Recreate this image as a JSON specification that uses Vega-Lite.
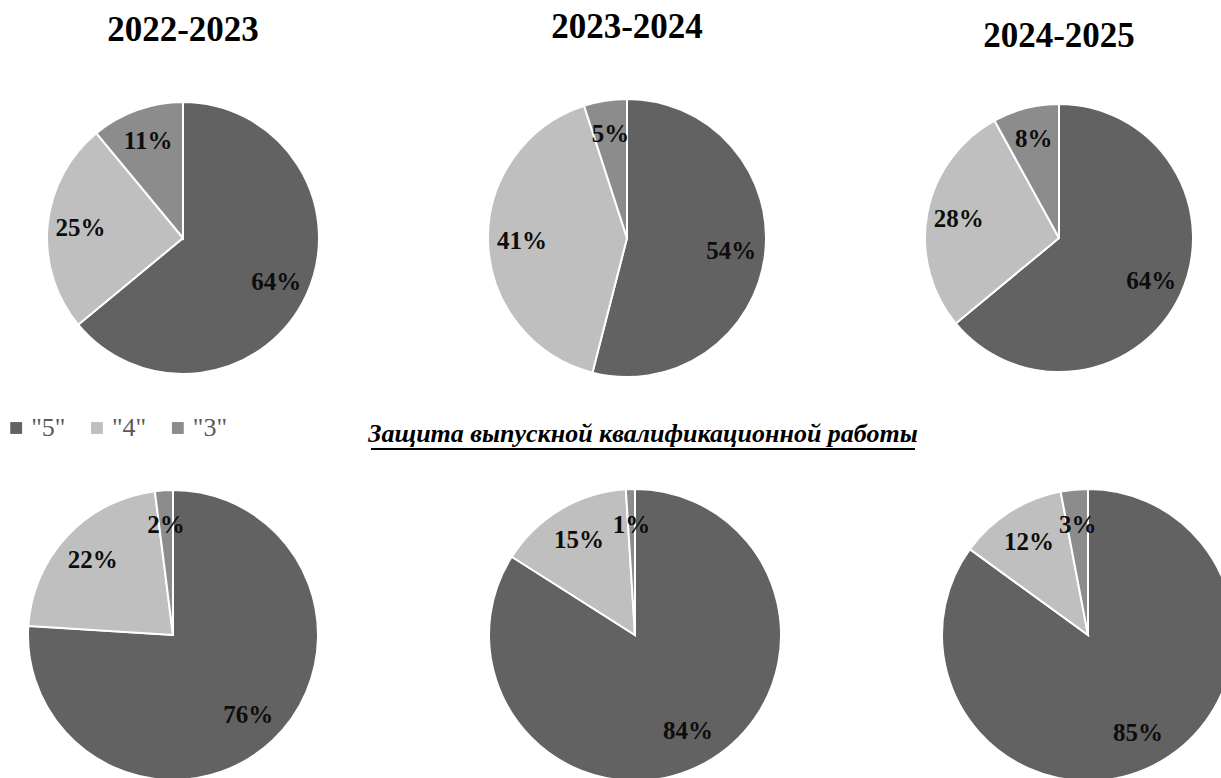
{
  "$schema": "https://vega.github.io/schema/vega-lite/v6.json",
  "background": "white",
  "padding": {"top": 10, "left": 0, "right": 0, "bottom": 0},
  "config": {"view": {"stroke": null}, "font": "Liberation Serif"},
  "datasets": {
    "grades": [
      {"exam": "Государственный экзамен", "year": "2022-2023", "grade": "\"5\"", "share": 0.64},
      {"exam": "Государственный экзамен", "year": "2022-2023", "grade": "\"4\"", "share": 0.25},
      {"exam": "Государственный экзамен", "year": "2022-2023", "grade": "\"3\"", "share": 0.11},
      {"exam": "Государственный экзамен", "year": "2023-2024", "grade": "\"5\"", "share": 0.54},
      {"exam": "Государственный экзамен", "year": "2023-2024", "grade": "\"4\"", "share": 0.41},
      {"exam": "Государственный экзамен", "year": "2023-2024", "grade": "\"3\"", "share": 0.05},
      {"exam": "Государственный экзамен", "year": "2024-2025", "grade": "\"5\"", "share": 0.64},
      {"exam": "Государственный экзамен", "year": "2024-2025", "grade": "\"4\"", "share": 0.28},
      {"exam": "Государственный экзамен", "year": "2024-2025", "grade": "\"3\"", "share": 0.08},
      {"exam": "ВКР", "year": "2022-2023", "grade": "\"5\"", "share": 0.76},
      {"exam": "ВКР", "year": "2022-2023", "grade": "\"4\"", "share": 0.22},
      {"exam": "ВКР", "year": "2022-2023", "grade": "\"3\"", "share": 0.02},
      {"exam": "ВКР", "year": "2023-2024", "grade": "\"5\"", "share": 0.84},
      {"exam": "ВКР", "year": "2023-2024", "grade": "\"4\"", "share": 0.15},
      {"exam": "ВКР", "year": "2023-2024", "grade": "\"3\"", "share": 0.01},
      {"exam": "ВКР", "year": "2024-2025", "grade": "\"5\"", "share": 0.85},
      {"exam": "ВКР", "year": "2024-2025", "grade": "\"4\"", "share": 0.12},
      {"exam": "ВКР", "year": "2024-2025", "grade": "\"3\"", "share": 0.03}
    ],
    "caption": [
      {"text": "Защита выпускной квалификационной работы"}
    ]
  },
  "spacing": 26,
  "vconcat": [
    {
      "spacing": 0,
      "hconcat": [
        {
          "width": 366, "height": 278,
          "title": {"text": "2022-2023", "fontSize": 35, "font": "Liberation Serif", "fontWeight": "bold", "anchor": "middle", "offset": 50, "color": "#000000"},
          "data": {"name": "grades"},
          "transform": [{"filter": "datum.exam === 'Государственный экзамен' && datum.year === '2022-2023'"}],
          "encoding": {
            "theta": {"field": "share", "type": "quantitative", "stack": true},
            "order": {"field": "grade", "sort": "descending"}
          },
          "layer": [
            {"mark": {"type": "arc", "outerRadius": 136, "stroke": "white", "strokeWidth": 2},
             "encoding": {"color": {"field": "grade", "type": "nominal", "legend": null, "scale": {"domain": ["\"5\"", "\"4\"", "\"3\""], "range": ["#626262", "#bfbfbf", "#8c8c8c"]}}}},
            {"mark": {"type": "text", "radius": 103, "fontSize": 25, "fontWeight": "bold", "font": "Liberation Serif", "color": "#0d0d0d"},
             "encoding": {"text": {"field": "share", "type": "quantitative", "format": ".0%"}}}
          ]
        },
        {
          "width": 522, "height": 278,
          "title": {"text": "2023-2024", "fontSize": 35, "font": "Liberation Serif", "fontWeight": "bold", "anchor": "middle", "offset": 50, "color": "#000000"},
          "data": {"name": "grades"},
          "transform": [{"filter": "datum.exam === 'Государственный экзамен' && datum.year === '2023-2024'"}],
          "encoding": {
            "theta": {"field": "share", "type": "quantitative", "stack": true},
            "order": {"field": "grade", "sort": "descending"}
          },
          "layer": [
            {"mark": {"type": "arc", "outerRadius": 139, "stroke": "white", "strokeWidth": 2},
             "encoding": {"color": {"field": "grade", "type": "nominal", "legend": null, "scale": {"domain": ["\"5\"", "\"4\"", "\"3\""], "range": ["#626262", "#bfbfbf", "#8c8c8c"]}}}},
            {"mark": {"type": "text", "radius": 105, "fontSize": 25, "fontWeight": "bold", "font": "Liberation Serif", "color": "#0d0d0d"},
             "encoding": {"text": {"field": "share", "type": "quantitative", "format": ".0%"}}}
          ]
        },
        {
          "width": 342, "height": 278,
          "title": {"text": "2024-2025", "fontSize": 35, "font": "Liberation Serif", "fontWeight": "bold", "anchor": "middle", "offset": 45, "color": "#000000"},
          "data": {"name": "grades"},
          "transform": [{"filter": "datum.exam === 'Государственный экзамен' && datum.year === '2024-2025'"}],
          "encoding": {
            "theta": {"field": "share", "type": "quantitative", "stack": true},
            "order": {"field": "grade", "sort": "descending"}
          },
          "layer": [
            {"mark": {"type": "arc", "outerRadius": 134, "stroke": "white", "strokeWidth": 2},
             "encoding": {"color": {"field": "grade", "type": "nominal", "legend": null, "scale": {"domain": ["\"5\"", "\"4\"", "\"3\""], "range": ["#626262", "#bfbfbf", "#8c8c8c"]}}}},
            {"mark": {"type": "text", "radius": 102, "fontSize": 25, "fontWeight": "bold", "font": "Liberation Serif", "color": "#0d0d0d"},
             "encoding": {"text": {"field": "share", "type": "quantitative", "format": ".0%"}}}
          ]
        }
      ]
    },
    {
      "spacing": 140,
      "hconcat": [
        {
          "width": 194, "height": 42,
          "data": {"name": "grades"},
          "transform": [{"filter": "datum.exam === 'ВКР' && datum.year === '2022-2023'"}],
          "encoding": {
            "x": {"field": "grade", "type": "nominal", "sort": "descending", "scale": {"type": "point", "padding": 0.2}, "axis": null}
          },
          "layer": [
            {"mark": {"type": "square", "size": 140, "opacity": 1},
             "encoding": {"color": {"field": "grade", "type": "nominal", "legend": null, "scale": {"domain": ["\"5\"", "\"4\"", "\"3\""], "range": ["#626262", "#bfbfbf", "#8c8c8c"]}}}},
            {"mark": {"type": "text", "align": "left", "baseline": "middle", "dx": 15, "fontSize": 26, "font": "Liberation Serif", "color": "#595959"},
             "encoding": {"text": {"field": "grade", "type": "nominal"}}}
          ]
        },
        {
          "width": 544, "height": 42,
          "data": {"name": "caption"},
          "layer": [
            {"mark": {"type": "text", "baseline": "alphabetic", "align": "center", "dy": 14, "fontSize": 26, "font": "Liberation Serif", "fontStyle": "italic", "fontWeight": "bold", "color": "#000000"},
             "encoding": {"text": {"field": "text", "type": "nominal"}}},
            {"mark": {"type": "rule", "strokeWidth": 2, "color": "#000000"},
             "encoding": {"x": {"value": 0}, "x2": {"value": "width"}, "y": {"value": "height"}}}
          ]
        }
      ]
    },
    {
      "spacing": 0,
      "hconcat": [
        {
          "width": 346, "height": 318,
          "data": {"name": "grades"},
          "transform": [{"filter": "datum.exam === 'ВКР' && datum.year === '2022-2023'"}],
          "encoding": {
            "theta": {"field": "share", "type": "quantitative", "stack": true},
            "order": {"field": "grade", "sort": "descending"}
          },
          "layer": [
            {"mark": {"type": "arc", "outerRadius": 145, "stroke": "white", "strokeWidth": 2},
             "encoding": {"color": {"field": "grade", "type": "nominal", "legend": null, "scale": {"domain": ["\"5\"", "\"4\"", "\"3\""], "range": ["#626262", "#bfbfbf", "#8c8c8c"]}}}},
            {"mark": {"type": "text", "radius": 110, "fontSize": 25, "fontWeight": "bold", "font": "Liberation Serif", "color": "#0d0d0d"},
             "encoding": {"text": {"field": "share", "type": "quantitative", "format": ".0%"}}}
          ]
        },
        {
          "width": 578, "height": 318,
          "data": {"name": "grades"},
          "transform": [{"filter": "datum.exam === 'ВКР' && datum.year === '2023-2024'"}],
          "encoding": {
            "theta": {"field": "share", "type": "quantitative", "stack": true},
            "order": {"field": "grade", "sort": "descending"}
          },
          "layer": [
            {"mark": {"type": "arc", "outerRadius": 146, "stroke": "white", "strokeWidth": 2},
             "encoding": {"color": {"field": "grade", "type": "nominal", "legend": null, "scale": {"domain": ["\"5\"", "\"4\"", "\"3\""], "range": ["#626262", "#bfbfbf", "#8c8c8c"]}}}},
            {"mark": {"type": "text", "radius": 110, "fontSize": 25, "fontWeight": "bold", "font": "Liberation Serif", "color": "#0d0d0d"},
             "encoding": {"text": {"field": "share", "type": "quantitative", "format": ".0%"}}}
          ]
        },
        {
          "width": 328, "height": 318,
          "data": {"name": "grades"},
          "transform": [{"filter": "datum.exam === 'ВКР' && datum.year === '2024-2025'"}],
          "encoding": {
            "theta": {"field": "share", "type": "quantitative", "stack": true},
            "order": {"field": "grade", "sort": "descending"}
          },
          "layer": [
            {"mark": {"type": "arc", "outerRadius": 146, "stroke": "white", "strokeWidth": 2},
             "encoding": {"color": {"field": "grade", "type": "nominal", "legend": null, "scale": {"domain": ["\"5\"", "\"4\"", "\"3\""], "range": ["#626262", "#bfbfbf", "#8c8c8c"]}}}},
            {"mark": {"type": "text", "radius": 110, "fontSize": 25, "fontWeight": "bold", "font": "Liberation Serif", "color": "#0d0d0d"},
             "encoding": {"text": {"field": "share", "type": "quantitative", "format": ".0%"}}}
          ]
        }
      ]
    }
  ]
}
